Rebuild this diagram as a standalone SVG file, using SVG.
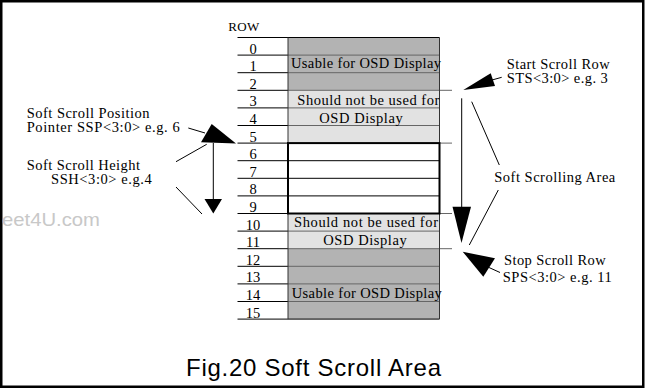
<svg xmlns="http://www.w3.org/2000/svg" width="645" height="389" viewBox="0 0 645 389">
<style>
.t{font-family:"Liberation Serif","Times New Roman",serif;font-size:14.5px;fill:#000}
.n{font-family:"Liberation Serif","Times New Roman",serif;font-size:14.5px;fill:#000;text-anchor:middle}
.dk{fill:#b3b3b3}
.lt{fill:#e2e2e2}
.cl{stroke:#000;stroke-width:1}
.gl{stroke:#666;stroke-width:1}
.ln{stroke:#000;stroke-width:1;fill:none}
.ah{fill:#000;stroke:none}
</style>
<rect x="1.25" y="1.25" width="642" height="385.5" fill="#fff" stroke="#000" stroke-width="2.5"/>
<text x="100" y="226" text-anchor="end" style="font-family:'Liberation Sans',Arial,sans-serif;font-size:19px;fill:#c8c8c8" textLength="98" lengthAdjust="spacingAndGlyphs">eet4U.com</text>
<g id="table">
<text class="t" x="228.3" y="31" style="font-size:13px" textLength="31">ROW</text>
<rect class="dk" x="288" y="37.5" width="151.5" height="52.8"/>
<rect class="lt" x="288" y="90.3" width="151.5" height="52.8"/>
<rect fill="#fff" x="288" y="143.1" width="151.5" height="70.4"/>
<rect class="lt" x="288" y="213.5" width="151.5" height="35.2"/>
<rect class="dk" x="288" y="248.7" width="151.5" height="70.4"/>
<g class="cl">
<line x1="237.5" y1="37.5" x2="439.5" y2="37.5"/>
<line x1="237.5" y1="55.1" x2="288" y2="55.1"/>
<line x1="237.5" y1="72.7" x2="288" y2="72.7"/>
<line x1="237.5" y1="90.3" x2="288" y2="90.3"/>
<line x1="237.5" y1="107.9" x2="288" y2="107.9"/>
<line x1="237.5" y1="125.5" x2="288" y2="125.5"/>
<line x1="237.5" y1="143.1" x2="288" y2="143.1"/>
<line x1="237.5" y1="160.7" x2="439.5" y2="160.7"/>
<line x1="237.5" y1="178.3" x2="439.5" y2="178.3"/>
<line x1="237.5" y1="195.9" x2="439.5" y2="195.9"/>
<line x1="237.5" y1="213.5" x2="288" y2="213.5"/>
<line x1="237.5" y1="231.1" x2="288" y2="231.1"/>
<line x1="237.5" y1="248.7" x2="288" y2="248.7"/>
<line x1="237.5" y1="266.3" x2="288" y2="266.3"/>
<line x1="237.5" y1="283.9" x2="288" y2="283.9"/>
<line x1="237.5" y1="301.5" x2="288" y2="301.5"/>
<line x1="237.5" y1="319.1" x2="439.5" y2="319.1"/>
</g>
<g class="gl">
<line x1="288" y1="55.1" x2="439.5" y2="55.1"/>
<line x1="288" y1="72.7" x2="439.5" y2="72.7"/>
<line x1="288" y1="90.3" x2="452" y2="90.3"/>
<line x1="288" y1="107.9" x2="439.5" y2="107.9"/>
<line x1="288" y1="125.5" x2="439.5" y2="125.5"/>
<line x1="439.5" y1="143.1" x2="452" y2="143.1"/>
<line x1="439.5" y1="213.5" x2="452" y2="213.5"/>
<line x1="288" y1="231.1" x2="439.5" y2="231.1"/>
<line x1="288" y1="248.7" x2="452" y2="248.7"/>
<line x1="288" y1="266.3" x2="439.5" y2="266.3"/>
<line x1="288" y1="283.9" x2="439.5" y2="283.9"/>
<line x1="288" y1="301.5" x2="439.5" y2="301.5"/>
</g>
<line x1="288" y1="37.5" x2="288" y2="319.1" stroke="#333" stroke-width="1"/>
<line x1="439.5" y1="37.5" x2="439.5" y2="319.1" stroke="#333" stroke-width="1"/>
<rect x="288" y="143.1" width="151.5" height="70.4" fill="none" stroke="#000" stroke-width="2"/>
<g>
<text class="n" x="253" y="53.6">0</text>
<text class="n" x="253" y="71.2">1</text>
<text class="n" x="253" y="88.8">2</text>
<text class="n" x="253" y="106.4">3</text>
<text class="n" x="253" y="124">4</text>
<text class="n" x="253" y="141.6">5</text>
<text class="n" x="253" y="159.2">6</text>
<text class="n" x="253" y="176.8">7</text>
<text class="n" x="253" y="194.4">8</text>
<text class="n" x="253" y="212">9</text>
<text class="n" x="253" y="229.6">10</text>
<text class="n" x="253" y="247.2">11</text>
<text class="n" x="253" y="264.8">12</text>
<text class="n" x="253" y="282.4">13</text>
<text class="n" x="253" y="300">14</text>
<text class="n" x="253" y="317.6">15</text>
</g>
<text class="t" x="291" y="68" textLength="150">Usable for OSD Display</text>
<text class="t" x="297.3" y="105" textLength="142">Should not be used for</text>
<text class="t" x="319.3" y="122.7" textLength="83.4">OSD Display</text>
<text class="t" x="294" y="227.3" textLength="144">Should not be used for</text>
<text class="t" x="323.3" y="244.5" textLength="83.4">OSD Display</text>
<text class="t" x="291.7" y="298.3" textLength="150">Usable for OSD Display</text>
</g>
<g id="label-ssp">
<text class="t" x="26.7" y="117.7" textLength="122.7">Soft Scroll Position</text>
<text class="t" x="26.7" y="131.7" textLength="153">Pointer SSP&lt;3:0&gt; e.g. 6</text>
</g>
<g id="label-ssh">
<text class="t" x="26.7" y="170" textLength="113.3">Soft Scroll Height</text>
<text class="t" x="51" y="184" textLength="100.7">SSH&lt;3:0&gt; e.g.4</text>
</g>
<g id="label-sts">
<text class="t" x="506.7" y="69" textLength="103">Start Scroll Row</text>
<text class="t" x="506.7" y="83.3" textLength="101">STS&lt;3:0&gt; e.g. 3</text>
</g>
<g id="label-area">
<text class="t" x="494.3" y="181.7" textLength="121">Soft Scrolling Area</text>
</g>
<g id="label-sps">
<text class="t" x="504" y="265" textLength="101.7">Stop Scroll Row</text>
<text class="t" x="502.7" y="281.7" textLength="109">SPS&lt;3:0&gt; e.g. 11</text>
</g>
<g id="connectors">
<line class="ln" x1="188.3" y1="128" x2="205" y2="133"/>
<polygon class="ah" points="236,143.5 201,142.3 211.7,124"/>
<line class="ln" x1="176" y1="161.7" x2="206.7" y2="144.3"/>
<line class="ln" x1="176" y1="187" x2="202" y2="214"/>
<line class="ln" x1="213.3" y1="143" x2="213.3" y2="200"/>
<polygon class="ah" points="204.5,199 222,199 213.3,213.5"/>
<line class="ln" x1="501.7" y1="77.3" x2="492" y2="80"/>
<polygon class="ah" points="463.3,90 490.7,73.3 495,86"/>
<line class="ln" x1="500" y1="272.5" x2="489" y2="267.5"/>
<polygon class="ah" points="462.7,251.7 495,258.3 483.3,276.7"/>
<line class="ln" x1="471.7" y1="101.7" x2="499.3" y2="165"/>
<line class="ln" x1="498.3" y1="190" x2="469.3" y2="245"/>
<line class="ln" x1="461.7" y1="98.3" x2="461.7" y2="208"/>
<polygon class="ah" points="452.5,206.7 471,206.7 461.5,243"/>
</g>
<text x="186" y="376" style="font-family:'Liberation Sans',Arial,sans-serif;font-size:24px;fill:#000" textLength="255">Fig.20 Soft Scroll Area</text>
</svg>
